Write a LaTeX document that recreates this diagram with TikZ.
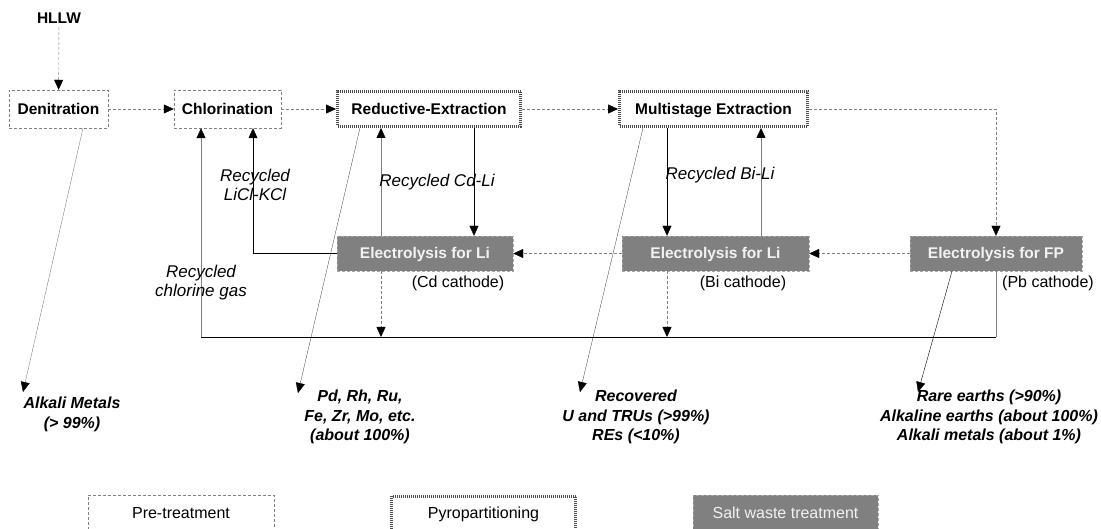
\documentclass[tikz,border=0pt]{standalone}
\usepackage{fontspec}
\setmainfont{Liberation Sans}
\usetikzlibrary{arrows.meta}
\definecolor{saltgray}{RGB}{128,128,128}
\tikzset{
	tip/.style={-{Triangle[length=10pt,width=9pt,color=black]}},
	boxfont/.style={font=\bfseries\fontsize{15.5}{18}\selectfont, text height=11pt, text depth=0pt},
	pretreat/.style={draw=gray, densely dashed, fill=white, boxfont, minimum height=38pt, inner sep=0pt},
	pyro/.style={draw=black!70, line width=3pt, dash pattern=on 1pt off 1pt, fill=white, boxfont, minimum height=35pt, inner sep=0pt},
	salt/.style={draw=gray!70, densely dashed, fill=saltgray, text=white!95!black, boxfont, minimum height=35pt, inner sep=0pt},
	flow/.style={gray, densely dashed, tip},
	recyc/.style={black, tip},
	note/.style={font=\itshape\fontsize{17}{19}\selectfont, align=center},
	result/.style={font=\bfseries\itshape\fontsize{16}{19.5}\selectfont, align=center},
	cath/.style={font=\fontsize{16}{19}\selectfont},
	legfont/.style={font=\fontsize{16}{19}\selectfont, text height=11pt, text depth=0pt}
}
\begin{document}
\begin{tikzpicture}[x=1pt,y=-1pt]
		\useasboundingbox (0,0) rectangle (1101,529);
		\node[font=\bfseries\fontsize{15.5}{18}\selectfont] (hllw) at (59,18) {HLLW};
		\node[pretreat, minimum width=99pt] (den) at (58.5,109) {Denitration};
		\node[pretreat, minimum width=107pt] (chlor) at (227.5,109) {Chlorination};
		\node[pyro, minimum width=183pt] (redex) at (429,109) {Reductive-Extraction};
		\node[pyro, minimum width=188pt] (multi) at (713.5,109) {Multistage Extraction};
		\node[salt, minimum width=176pt] (elcd) at (425,253.5) {Electrolysis for Li};
		\node[salt, minimum width=187pt] (elbi) at (715.5,253.5) {Electrolysis for Li};
		\node[salt, minimum width=172pt] (elfp) at (996,253.5) {Electrolysis for FP};
		\node[cath] (cdcath) at (458,283) {(Cd cathode)};
		\node[cath] (bicath) at (743,283) {(Bi cathode)};
		\node[cath] (pbcath) at (1048,283) {(Pb cathode)};

		\coordinate (xcl) at (201,0);
		\coordinate (xlk) at (253,0);
		\coordinate (xcdup) at (381,0);
		\coordinate (xcddn) at (474,0);
		\coordinate (xbidn) at (667,0);
		\coordinate (xbiup) at (761,0);
		\coordinate (busL) at (201,337);
		\coordinate (busR) at (996,337);

		\draw[flow] (hllw) -- (den);
		\draw[flow] (den) -- (chlor);
		\draw[flow] (chlor) -- (redex);
		\draw[flow] (redex) -- (multi);
		\draw[flow] (multi.east) -| (elfp.north);
		\draw[flow] (elfp) -- (elbi);
		\draw[flow] (elbi) -- (elcd);

		\draw[recyc] (redex.south -| xcddn) -- (elcd.north -| xcddn);
		\draw[recyc, gray] (elcd.north -| xcdup) -- (redex.south -| xcdup);
		\draw[recyc] (multi.south -| xbidn) -- (elbi.north -| xbidn);
		\draw[recyc, gray] (elbi.north -| xbiup) -- (multi.south -| xbiup);
		\draw[recyc] (elcd.west) -| (chlor.south -| xlk);

		\draw[flow] (elcd.south -| xcdup) -- (busL -| xcdup);
		\draw[flow] (elbi.south -| xbidn) -- (busL -| xbidn);
		\draw[gray] (elfp.south) -- (busR);
		\draw (busR) -- (busL);
		\draw[recyc, gray] (busL) -- (chlor.south -| xcl);

		\node[note] (lblcl) at (201,283) {Recycled\\chlorine gas};
		\node[note] (lbllk) at (255,184.5) {Recycled\\LiCl-KCl};
		\node[note] (lblcd) at (437,182) {Recycled Cd-Li};
		\node[note] (lblbi) at (720,175) {Recycled Bi-Li};

		\node[result] (alk) at (72,414.5) {Alkali Metals\\(> 99\%)};
		\node[result] (pd) at (360,417) {Pd, Rh, Ru,\\Fe, Zr, Mo, etc.\\(about 100\%)};
		\node[result] (rec) at (636,417) {Recovered\\U and TRUs (>99\%)\\REs (<10\%)};
		\node[result] (rare) at (989,417) {Rare earths (>90\%)\\Alkaline earths (about 100\%)\\Alkali metals (about 1\%)};
		\coordinate (alktip) at (23,392);
		\coordinate (pdtip) at (298,393);
		\coordinate (rectip) at (580,392);
		\coordinate (raretip) at (918,392);
		\draw[tip, gray, thin] ([xshift=24.5pt]den.south) -- (alktip);
		\draw[tip, very thin] ([xshift=-69pt]redex.south) -- (pdtip);
		\draw[tip, very thin] ([xshift=-70.5pt]multi.south) -- (rectip);
		\draw[tip] ([xshift=-44pt]elfp.south) -- (raretip);

		\node[pretreat, minimum width=186pt, minimum height=36pt, legfont] (legpre) at (181,513) {Pre-treatment};
		\node[pyro, minimum width=184pt, minimum height=34pt, legfont] (legpyro) at (483.5,513) {Pyropartitioning};
		\node[salt, minimum width=185pt, minimum height=36pt, legfont] (legsalt) at (785.5,513) {Salt waste treatment};
	\end{tikzpicture}
\end{document}
